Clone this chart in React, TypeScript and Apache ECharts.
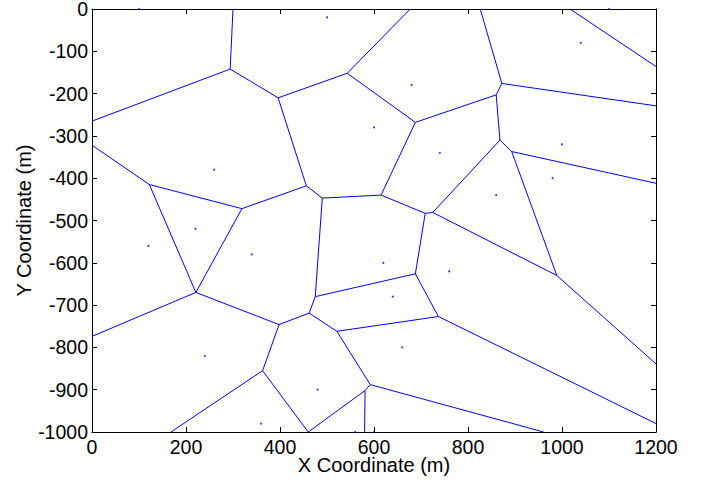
import React, { useEffect, useRef } from "react";
import * as echarts from "echarts";

// Voronoi seed points [x, y] in metres
const seeds: [number, number][] = [
  [100, 0], [500, -20], [1100, 0], [1040, -80], [680, -180], [600, -280],
  [260, -380], [740, -340], [1000, -320], [980, -400], [860, -440],
  [120, -560], [220, -520], [340, -580], [620, -600], [760, -620],
  [640, -680], [660, -800], [240, -820], [480, -900], [360, -980],
  [560, -1000], [600, -1000],
];

// Voronoi edges [x1, y1, x2, y2] in metres
const edges: [number, number, number, number][] = [
  [300, 0, 294, -142],
  [294, -142, 0, -265],
  [294, -142, 396, -210],
  [396, -210, 543, -152],
  [543, -152, 677, 0],
  [543, -152, 688, -268],
  [396, -210, 456, -418],
  [0, -322, 122, -415],
  [122, -415, 319, -472],
  [319, -472, 456, -418],
  [456, -418, 490, -447],
  [490, -447, 615, -440],
  [490, -447, 475, -680],
  [319, -472, 221, -670],
  [122, -415, 221, -670],
  [221, -670, 0, -774],
  [221, -670, 398, -746],
  [398, -746, 462, -719],
  [462, -719, 475, -680],
  [462, -719, 521, -762],
  [521, -762, 737, -727],
  [475, -680, 688, -626],
  [826, 0, 872, -176],
  [872, -176, 1200, -229],
  [872, -176, 860, -203],
  [860, -203, 688, -268],
  [860, -203, 868, -310],
  [868, -310, 893, -337],
  [893, -337, 1200, -412],
  [893, -337, 989, -630],
  [868, -310, 725, -481],
  [725, -481, 709, -483],
  [688, -268, 615, -440],
  [615, -440, 709, -483],
  [709, -483, 688, -626],
  [725, -481, 989, -630],
  [1017, 0, 1200, -136],
  [688, -626, 737, -727],
  [989, -630, 1200, -839],
  [737, -727, 1200, -980],
  [592, -888, 961, -1000],
  [521, -762, 592, -888],
  [592, -888, 581, -902],
  [581, -902, 580, -1000],
  [581, -902, 460, -1000],
  [398, -746, 363, -855],
  [363, -855, 460, -1000],
  [363, -855, 168, -1000],
];

const xMin = 0, xMax = 1200, xStep = 200;
const yMin = -1000, yMax = 0, yStep = 100;

const FONT = "'Liberation Sans', Arial, Helvetica, sans-serif";

export default function App() {
  const ref = useRef<HTMLDivElement>(null);
  useEffect(() => {
    if (!ref.current) return;
    const chart = echarts.init(ref.current, undefined, { renderer: "svg" });
    const axisLine = { show: true, onZero: false, lineStyle: { color: "#000", width: 1 } };
    const tick = { show: true, inside: true, length: 5, lineStyle: { color: "#000", width: 1 } };
    const fmt = (v: number) => String(v);
    chart.setOption({
      animation: false,
      grid: { left: 92, right: 49, top: 9, bottom: 48, containLabel: false, outerBoundsMode: "none" },
      xAxis: [
        {
          type: "value", min: xMin, max: xMax, interval: xStep, position: "bottom",
          axisLine, axisTick: tick, splitLine: { show: false },
          axisLabel: { formatter: fmt, fontSize: 19.5, lineHeight: 14, color: "#000", margin: 8, fontFamily: FONT, showMinLabel: true, showMaxLabel: true },
          name: "X Coordinate (m)", nameLocation: "middle", nameGap: 33, nameMoveOverlap: false,
          nameTextStyle: { fontSize: 20, lineHeight: 16, color: "#000", fontFamily: FONT, verticalAlign: "middle" },
        },
        {
          type: "value", min: xMin, max: xMax, interval: xStep, position: "top",
          axisLine, axisTick: tick, splitLine: { show: false }, axisLabel: { show: false },
        },
      ],
      yAxis: [
        {
          type: "value", min: yMin, max: yMax, interval: yStep, position: "left",
          axisLine, axisTick: tick, splitLine: { show: false },
          axisLabel: { formatter: fmt, fontSize: 19.5, lineHeight: 14, color: "#000", margin: 4, fontFamily: FONT, showMinLabel: true, showMaxLabel: true },
          name: "Y Coordinate (m)", nameLocation: "middle", nameGap: 68, nameMoveOverlap: false,
          nameTextStyle: { fontSize: 20, lineHeight: 16, color: "#000", fontFamily: FONT, verticalAlign: "middle" },
        },
        {
          type: "value", min: yMin, max: yMax, interval: yStep, position: "right",
          axisLine, axisTick: tick, splitLine: { show: false }, axisLabel: { show: false },
        },
      ],
      series: [
        {
          type: "lines",
          coordinateSystem: "cartesian2d",
          xAxisIndex: 0,
          yAxisIndex: 0,
          polyline: false,
          silent: true,
          lineStyle: { color: "#0000ff", width: 1, opacity: 1 },
          data: edges.map((e) => ({ coords: [[e[0], e[1]], [e[2], e[3]]] })),
        },
        {
          type: "scatter",
          xAxisIndex: 0,
          yAxisIndex: 0,
          symbol: "circle",
          symbolSize: 2,
          itemStyle: { color: "#0000ff" },
          data: seeds,
        },
      ],
    });
    return () => chart.dispose();
  }, []);
  return (
    <div
      ref={ref}
      style={{ position: "absolute", left: 0, top: 0, width: 705, height: 480, background: "#fff" }}
    />
  );
}
